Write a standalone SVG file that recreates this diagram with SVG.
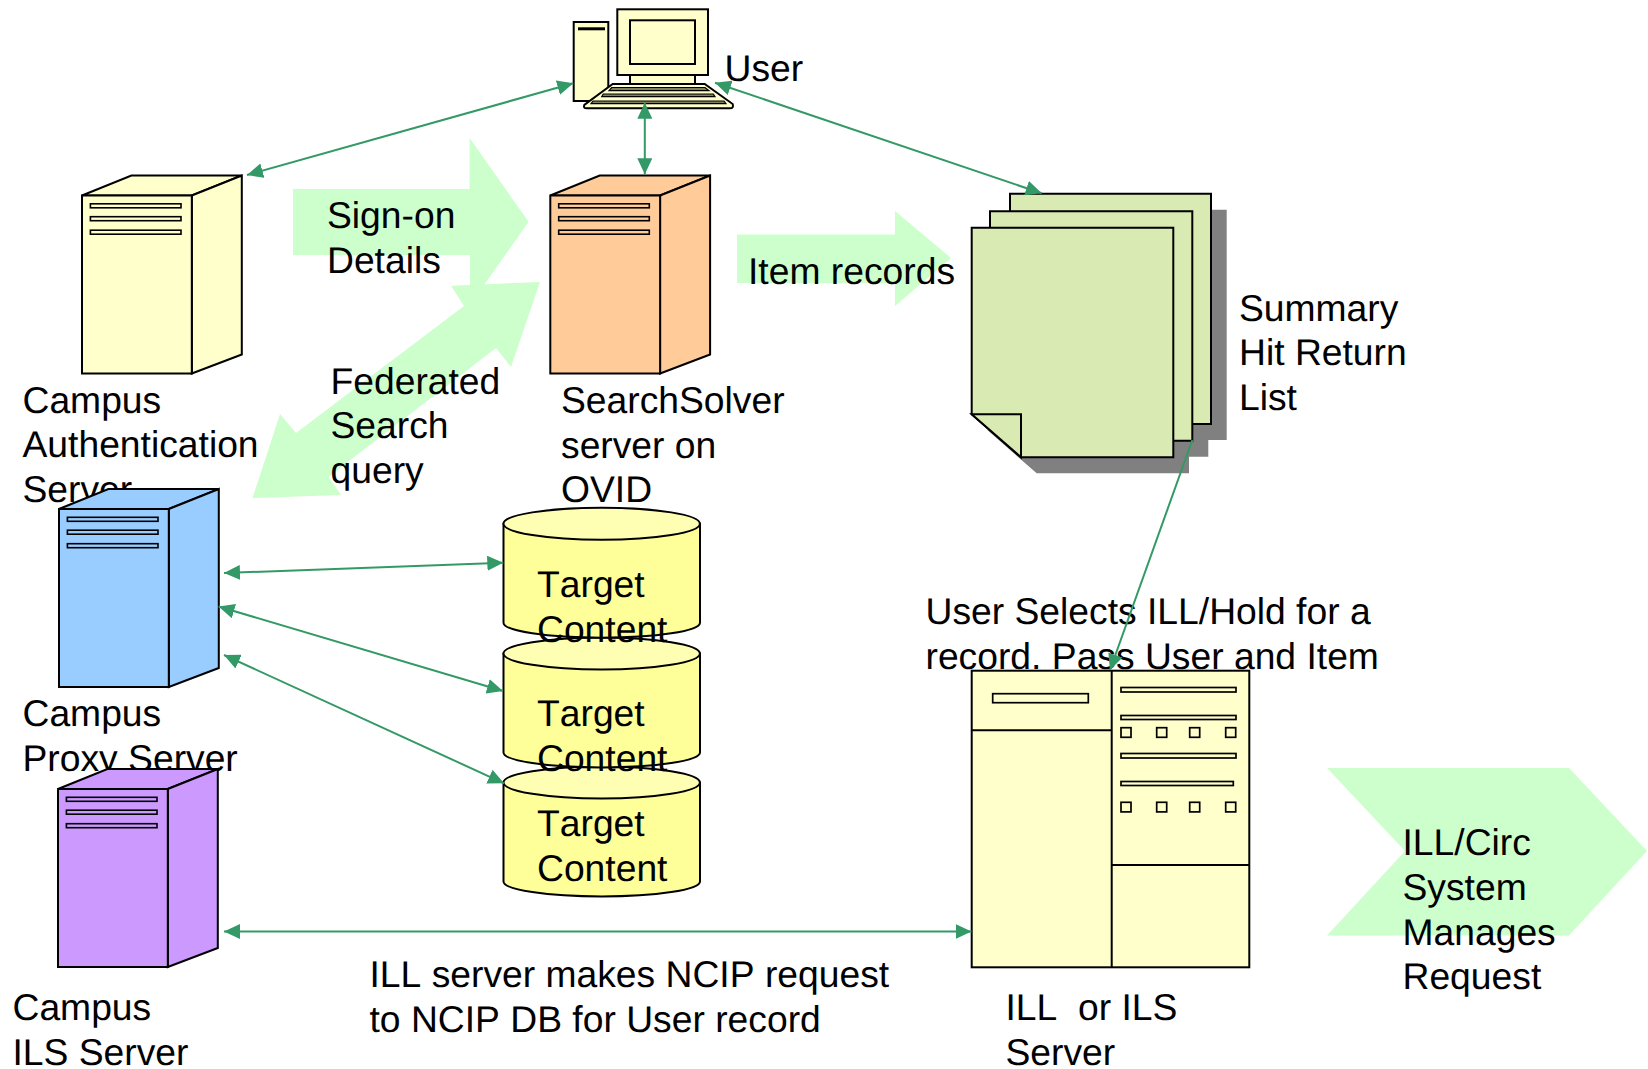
<svg xmlns="http://www.w3.org/2000/svg" xmlns:xlink="http://www.w3.org/1999/xlink" width="1648" height="1069" viewBox="0 0 1648 1069">
<style>
text{font-family:"Liberation Sans",Arial,sans-serif;font-size:37.25px;fill:#000;white-space:pre;text-rendering:geometricPrecision;font-kerning:none}
.ol{stroke:#000;stroke-width:2;stroke-linejoin:miter}
.big{fill:#CCFFCC;stroke:none}
.c{fill:none;stroke:#339966;stroke-width:2;marker-end:url(#ah)}
.cc{marker-start:url(#ah)}
.doc{fill:#D9EAB3;stroke:#000;stroke-width:2}
.lt{fill:#FFFFCC;stroke:#000;stroke-width:2}
</style>
<defs>
<marker id="ah" markerUnits="userSpaceOnUse" viewBox="0 0 16 15" refX="16" refY="7.5" markerWidth="16" markerHeight="15" orient="auto-start-reverse"><path d="M0 0L16 7.5L0 15Z" fill="#339966"/></marker>
<g id="srv" class="ol">
<path d="M0 0L49.4-20H159.8L109.8 0Z"/>
<path d="M109.8 0L159.8-20V159L109.8 178Z"/>
<rect width="109.8" height="178"/>
<rect x="8.4" y="8.3" width="90.6" height="4" stroke-width="1.6"/>
<rect x="8.4" y="21.2" width="90.6" height="4" stroke-width="1.6"/>
<rect x="8.4" y="34.7" width="90.6" height="4" stroke-width="1.6"/>
</g>
<g id="cyl" class="ol">
<path d="M503.5 0V99A98.2 15 0 0 0 700 99V0Z" fill="#FFFF99"/>
<ellipse cx="601.7" cy="0" rx="98.2" ry="16" fill="#FFFFB3"/>
</g>
</defs>
<rect width="1648" height="1069" fill="#fff"/>
<g id="arrow-signon"><path class="big" d="M293 189H469.6V138L528.6 221.7L470 305V255H293Z"/><text x="327" y="228">Sign-on</text><text x="327" y="273">Details</text></g>
<g id="arrow-federated"><path class="big" d="M540 282L451 285.7L464 306L296 433L280 414L252.5 498L341 495L328.6 476.7L496 348L511 367Z"/><text x="330.5" y="394">Federated</text><text x="330.5" y="438">Search</text><text x="330.5" y="483">query</text></g>
<g id="arrow-items"><path class="big" d="M737 234.5H895V211L951 258L895 306V283H737Z"/><text x="748" y="284">Item records</text></g>
<g id="arrow-circ"><path class="big" d="M1327 768H1569L1647 851L1569 935.5H1327L1405 851Z"/></g>
<g id="user">
<rect class="lt" x="573.7" y="22" width="34.6" height="79"/>
<rect x="578" y="27.3" width="27" height="3"/>
<rect class="lt" x="630" y="75" width="65" height="10"/>
<rect class="lt" x="617.3" y="9.3" width="90.7" height="65.7"/>
<rect class="lt" x="630" y="20.3" width="65" height="43.7"/>
<path class="lt" d="M612.7 84H704.7L732.7 104Q734 108.3 730 108.3H586.7Q583 108.3 584.3 105Z"/>
<g fill="#808060" stroke="#000" stroke-width="1.2"><path d="M611.7 87.5H705L709 90.7H609Z"/><path d="M603.3 94H713.3L715 96.7H601.7Z"/><path d="M593 101H724L726 103.7H591Z"/></g>
<text x="724.5" y="81">User</text>
</g>
<g id="auth"><use xlink:href="#srv" href="#srv" x="82" y="195.5" fill="#FFFFCC"/><text x="22.5" y="413">Campus</text><text x="22.5" y="457">Authentication</text><text x="22.5" y="502">Server</text></g>
<g id="searchsolver"><use xlink:href="#srv" href="#srv" x="550.3" y="195.5" fill="#FFCC99"/><text x="561" y="413">SearchSolver</text><text x="561" y="458">server on</text><text x="561" y="502">OVID</text></g>
<g id="proxy"><use xlink:href="#srv" href="#srv" x="59" y="509" fill="#99CCFF"/><text x="22.5" y="726">Campus</text><text x="22.5" y="771">Proxy Server</text></g>
<g id="ils"><use xlink:href="#srv" href="#srv" x="58" y="789" fill="#CC99FF"/><text x="12.5" y="1020">Campus</text><text x="12.5" y="1065">ILS Server</text></g>
<g id="target3"><use xlink:href="#cyl" href="#cyl" y="782.5"/></g>
<g id="target2"><use xlink:href="#cyl" href="#cyl" y="653.5"/></g>
<g id="target1"><use xlink:href="#cyl" href="#cyl" y="523.7"/></g>
<g id="target-labels"><text x="537" y="597">Target</text><text x="537" y="641.5">Content</text><text x="537" y="726">Target</text><text x="537" y="770.5">Content</text><text x="537" y="836">Target</text><text x="537" y="881">Content</text></g>
<g id="summary">
<path fill="#808080" d="M1026 209.7H1226.7V440H1208.3V456.7H1189V473.3H1036.7L987.7 430.3V243.7H1006V227.3H1026Z"/>
<path class="doc" d="M1010 193.7H1211V424H1059L1010 381Z"/>
<path class="doc" d="M990 211.3H1192.3V440.7H1039L990 398Z"/>
<path class="doc" d="M971.7 227.7H1173.3V457.3H1021L971.7 414.3Z"/>
<path class="doc" d="M971.7 414.3H1021V457.3Z"/>
<text x="1239" y="321">Summary</text><text x="1239" y="365">Hit Return</text><text x="1239" y="410">List</text>
</g>
<g id="ill">
<rect class="lt" x="971.7" y="670.7" width="277.6" height="296.6"/>
<g fill="none" stroke="#000" stroke-width="2"><path d="M1111.7 670.7V968M971.7 730.3H1111.7M1111.7 865H1250"/></g>
<g fill="#FFFFCC" stroke="#000" stroke-width="1.7">
<rect x="992.7" y="693.7" width="95.6" height="9"/>
<rect x="1121" y="687.5" width="115" height="4.5"/><rect x="1121" y="715.5" width="115" height="4"/><rect x="1121" y="753.5" width="115" height="4.5"/><rect x="1121" y="781.5" width="112.3" height="4"/>
<rect x="1121" y="727.7" width="10" height="9.6"/><rect x="1156.7" y="727.7" width="10" height="9.6"/><rect x="1189.7" y="727.7" width="10" height="9.6"/><rect x="1225.7" y="727.7" width="10" height="9.6"/>
<rect x="1121" y="802.3" width="10" height="9.6"/><rect x="1156.7" y="802.3" width="10" height="9.6"/><rect x="1189.7" y="802.3" width="10" height="9.6"/><rect x="1225.7" y="802.3" width="10" height="9.6"/>
</g>
<text x="1005.5" y="1020">ILL  or ILS</text><text x="1005.5" y="1065">Server</text>
</g>
<g id="labels">
<text x="925.5" y="624">User Selects ILL/Hold for a</text><text x="925.5" y="669">record. Pass User and Item</text>
<text x="369.5" y="987">ILL server makes NCIP request</text><text x="369.5" y="1032">to NCIP DB for User record</text>
<text x="1402.5" y="854.5">ILL/Circ</text><text x="1402.5" y="900">System</text><text x="1402.5" y="945">Manages</text><text x="1402.5" y="989">Request</text>
</g>
<g id="connectors">
<path class="c cc" d="M247 175L573.3 83.3"/>
<path class="c cc" d="M644.8 102.7V174.3"/>
<path class="c cc" d="M715 82.7L1041.7 193.3"/>
<path class="c" d="M1192.3 440L1110 670"/>
<path class="c cc" d="M224 573L503.3 562.7"/>
<path class="c cc" d="M218.6 606.5L503 691"/>
<path class="c cc" d="M224 655L504 783.3"/>
<path class="c cc" d="M224 931.5H971.5"/>
</g>
</svg>
